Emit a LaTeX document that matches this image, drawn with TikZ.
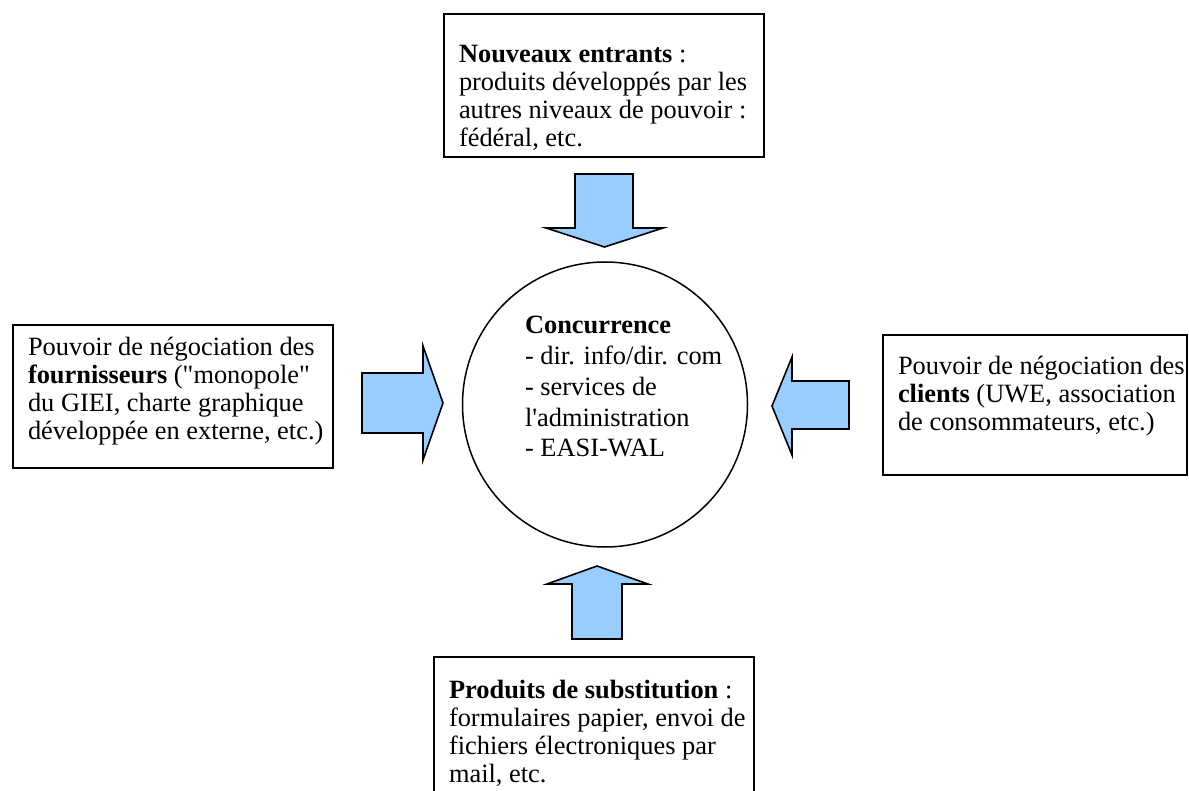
\documentclass[tikz,border=0pt]{standalone}
\usepackage{fontspec}
\setmainfont{Liberation Serif}[Ligatures=TeXOff]
\definecolor{arrowblue}{RGB}{153,204,255}
\newcommand{\boxtext}[1]{\parbox[t]{12cm}{\fontsize{26.4}{28}\selectfont\raggedright #1}}
\newcommand{\circtext}[1]{\parbox[t]{12cm}{\fontsize{26.4}{30.7}\selectfont\raggedright #1}}
\begin{document}
\begin{tikzpicture}[x=1pt,y=-1pt,
  frame/.style={draw=black,line width=1.8pt},
  txt/.style={anchor=base west,inner sep=0pt,outer sep=0pt},
  blockarrow/.style={draw=black,line width=1.6pt,fill=arrowblue,line join=miter}]
\useasboundingbox (0,0) rectangle (1189,791);
\fill[white] (0,0) rectangle (1189,791);
\clip (0,0) rectangle (1189,791);

% boxes
\draw[frame] (444,14) rectangle (764,157);
\node[txt] (top) at (459,63) {\boxtext{\textbf{Nouveaux entrants} :\\produits développés par les\\autres niveaux de pouvoir :\\fédéral, etc.}};

\draw[frame] (13,325) rectangle (333,468);
\node[txt] (left) at (28,356) {\boxtext{Pouvoir de négociation des\\\textbf{fournisseurs} ("monopole"\\du GIEI, charte graphique\\développée en externe, etc.)}};

\draw[frame] (883,335) rectangle (1187,475);
\node[txt] (right) at (898,375) {\boxtext{Pouvoir de négociation des\\\textbf{clients} (UWE, association\\de consommateurs, etc.)}};

\draw[frame] (434,800) -- (434,657) -- (754,657) -- (754,800);
\node[txt] (bottom) at (449,698) {\boxtext{\textbf{Produits de substitution} :\\formulaires papier, envoi de\\fichiers électroniques par\\mail, etc.}};

% circle
\node[draw=black,line width=1.5pt,circle,minimum size=285pt,inner sep=0pt] (conc) at (605,404.5) {};
\node[txt] (conctext) at (525,334) {\circtext{\textbf{Concurrence}\\- dir. info/dir. com\\- services de\\l'administration\\- EASI-WAL}};

% block arrows
\draw[blockarrow] (575,174) -- (633,174) -- (633,228) -- (663,228) -- (604.5,247) -- (546,228) -- (575,228) -- cycle;
\draw[blockarrow] (362,373) -- (423,373) -- (423,346) -- (443,403) -- (423,460) -- (423,433) -- (362,433) -- cycle;
\draw[blockarrow] (849,381) -- (792,381) -- (792,357) -- (772,406) -- (792,455) -- (792,429) -- (849,429) -- cycle;
\draw[blockarrow] (572,639) -- (572,584) -- (547,584) -- (597,566) -- (648,584) -- (622,584) -- (622,639) -- cycle;
\end{tikzpicture}
\end{document}
